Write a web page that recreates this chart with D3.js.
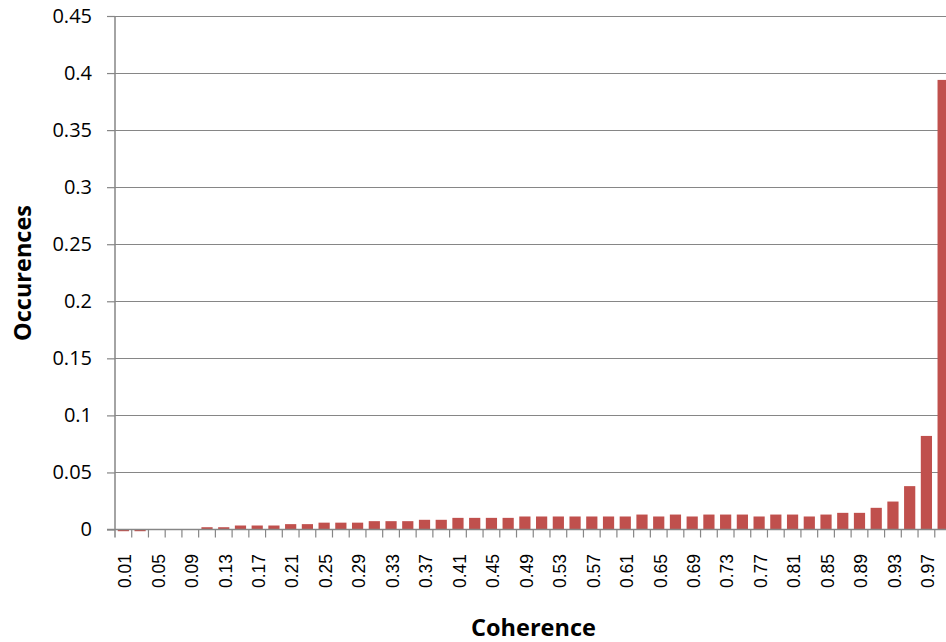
<!DOCTYPE html>
<html>
<head>
<meta charset="utf-8">
<script src="https://cdn.jsdelivr.net/npm/d3@7"></script>
<style>
html, body { margin: 0; padding: 0; background: #fff; overflow: hidden; }
svg { display: block; }
</style>
</head>
<body>
<svg id="chart" width="946" height="642"></svg>
<script>
// Categories (coherence bins)
const categories = ["0.01","0.03","0.05","0.07","0.09","0.11","0.13","0.15","0.17","0.19",
  "0.21","0.23","0.25","0.27","0.29","0.31","0.33","0.35","0.37","0.39",
  "0.41","0.43","0.45","0.47","0.49","0.51","0.53","0.55","0.57","0.59",
  "0.61","0.63","0.65","0.67","0.69","0.71","0.73","0.75","0.77","0.79",
  "0.81","0.83","0.85","0.87","0.89","0.91","0.93","0.95","0.97","0.99"];
// Occurrence fraction per bin
const occurrences = [-0.0015,-0.0015,0,0,0,0.002,0.002,0.0035,0.0035,0.0035,
  0.0047,0.0047,0.006,0.006,0.006,0.0073,0.0073,0.0073,0.0085,0.0085,
  0.0102,0.0102,0.0102,0.0102,0.0114,0.0114,0.0114,0.0114,0.0114,0.0114,
  0.0114,0.0131,0.0114,0.0131,0.0114,0.0131,0.0131,0.0131,0.0114,0.0131,
  0.0131,0.0114,0.0131,0.0146,0.0146,0.019,0.0245,0.038,0.082,0.394];
const yTicks = [0,0.05,0.1,0.15,0.2,0.25,0.3,0.35,0.4,0.45];
const yTickLabels = ["0","0.05","0.1","0.15","0.2","0.25","0.3","0.35","0.4","0.45"];
const xTitle = "Coherence";
const yTitle = "Occurences";

(function () {
const data = categories.map((c, i) => ({ c, v: occurrences[i] }));

const svg = d3.select("#chart");
const pLeft = 115, pRight = 115 + 836.5, pTop = 16, pBottom = 529.5;
const gridColor = "#868686";

const x = d3.scaleBand().domain(categories).range([pLeft, pRight]).paddingInner(0.33).paddingOuter(0.165);
const y = d3.scaleLinear().domain([0, 0.45]).range([pBottom, pTop]);

// gridlines
svg.append("g").selectAll("line").data(yTicks.filter(t => t > 0)).join("line")
  .attr("x1", pLeft).attr("x2", pRight)
  .attr("y1", d => Math.round(y(d)) + 0.5).attr("y2", d => Math.round(y(d)) + 0.5)
  .attr("stroke", gridColor).attr("stroke-width", 1.2);

// bars
svg.append("g").selectAll("rect").data(data).join("rect")
  .attr("x", d => x(d.c))
  .attr("width", x.bandwidth())
  .attr("y", d => Math.min(y(d.v), y(0)))
  .attr("height", d => Math.abs(y(d.v) - y(0)))
  .attr("fill", "#C0504D");

// y axis
const yAxis = d3.axisLeft(y).tickValues(yTicks).tickSize(8).tickPadding(15)
  .tickFormat((d, i) => yTickLabels[i]);
const gy = svg.append("g").attr("transform", `translate(${pLeft},0)`).call(yAxis);
gy.select(".domain").remove();
gy.selectAll(".tick line").attr("stroke", gridColor).attr("stroke-width", 1.2);
gy.selectAll(".tick text").attr("font-family", "'Open Sans', Lato, sans-serif")
  .attr("font-size", 20).attr("fill", "#000");
svg.append("line").attr("x1", pLeft).attr("x2", pLeft).attr("y1", pTop).attr("y2", pBottom + 8)
  .attr("stroke", gridColor).attr("stroke-width", 1.5);

// x axis
const step = x.step();
const gx = svg.append("g").attr("transform", `translate(0,${pBottom})`);
gx.append("line").attr("x1", pLeft - 8).attr("x2", pRight).attr("y1", 0).attr("y2", 0)
  .attr("stroke", gridColor).attr("stroke-width", 1.5);
gx.selectAll("line.tk").data(d3.range(1, categories.length + 1)).join("line").attr("class", "tk")
  .attr("x1", i => pLeft + i * step).attr("x2", i => pLeft + i * step)
  .attr("y1", 0).attr("y2", 8)
  .attr("stroke", gridColor).attr("stroke-width", 1.2);
gx.selectAll("text").data(categories.filter((c, i) => i % 2 === 0)).join("text")
  .attr("transform", c => `translate(${x(c) + x.bandwidth() / 2 + 1.5},24.5) rotate(-90)`)
  .attr("text-anchor", "end").attr("dy", "0.36em")
  .attr("font-family", "'Liberation Sans', Arial, sans-serif").attr("font-size", 17.5)
  .attr("fill", "#000").text(c => c);

// titles
svg.append("text").attr("x", 533.5).attr("y", 636).attr("text-anchor", "middle")
  .attr("font-family", "'Open Sans', Lato, sans-serif").attr("font-weight", 700)
  .attr("font-size", 23.5).attr("fill", "#000").text(xTitle);
svg.append("text").attr("transform", "translate(31,273) rotate(-90)").attr("text-anchor", "middle")
  .attr("font-family", "'Open Sans', Lato, sans-serif").attr("font-weight", 700)
  .attr("font-size", 23.5).attr("fill", "#000").text(yTitle);
})();
</script>
</body>
</html>
